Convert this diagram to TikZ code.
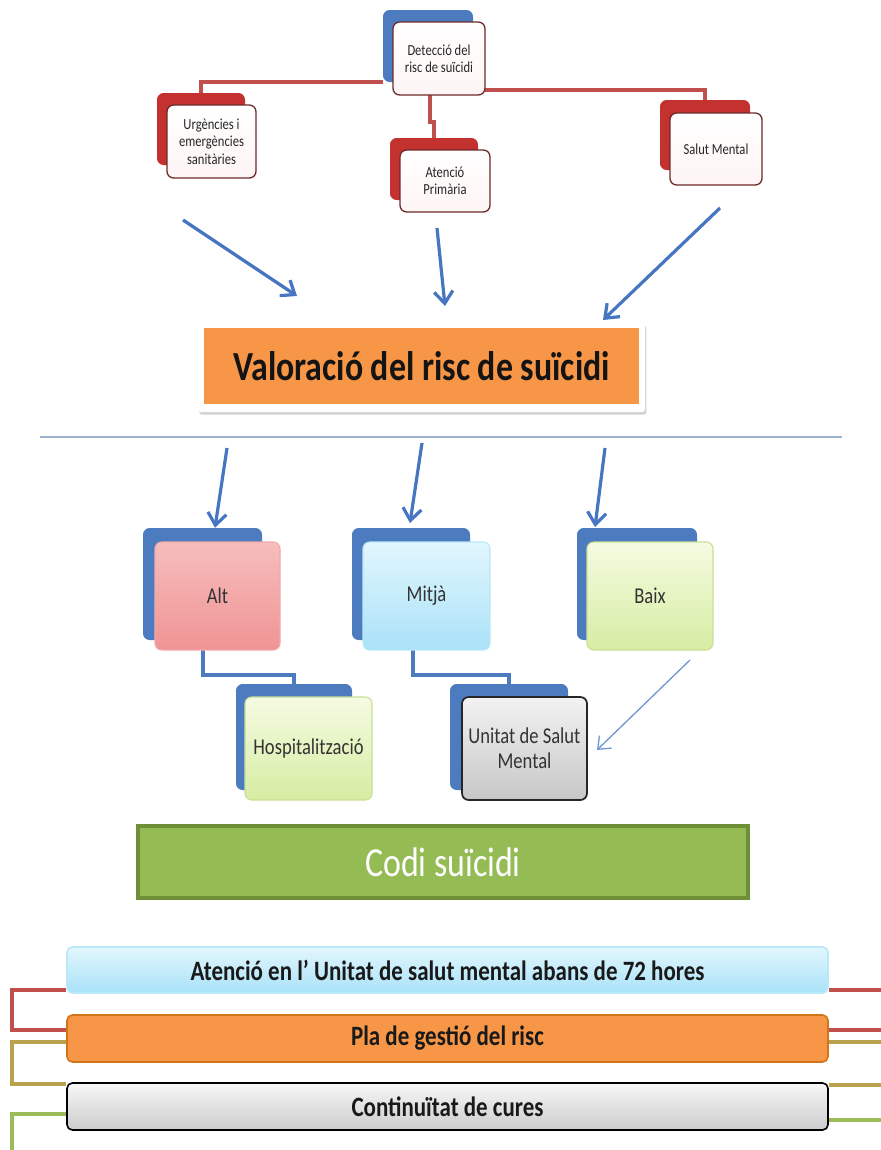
\documentclass[tikz,border=0pt]{standalone}
\usepackage{fontspec}
\usepackage{graphicx}
\setmainfont{Carlito}[FakeStretch=0.82]
\usetikzlibrary{arrows.meta,shadows}
\definecolor{arrowblue}{HTML}{4676C2}
\definecolor{backblue}{HTML}{4C7CBF}
\definecolor{backred}{HTML}{C3322E}
\definecolor{redline}{HTML}{C0504D}
\definecolor{oliveline}{HTML}{B8A24E}
\definecolor{greenline}{HTML}{9BBB59}
\definecolor{topborder}{HTML}{6E2A2A}
\definecolor{valorange}{HTML}{F79646}
\definecolor{codigreen}{HTML}{95BB55}
\definecolor{codiborder}{HTML}{6E8F35}
\definecolor{sepline}{HTML}{9DB3CC}
\definecolor{ygtop}{HTML}{F5FBE2}
\definecolor{ygbot}{HTML}{D6EDA2}
\definecolor{ygborder}{HTML}{C9DF98}
\definecolor{pinktop}{HTML}{F7BDBD}
\definecolor{pinkbot}{HTML}{F09494}
\definecolor{cyantop}{HTML}{E2F6FD}
\definecolor{cyanbot}{HTML}{A9E2F8}
\newcommand\bx[7]{\node[#6,minimum width={(#4-#2)*0.75pt},minimum height={(#5-#3)*0.75pt}] (#1) at ({(#2+#4)/2},{(#3+#5)/2}) {#7};}
\begin{document}
\begin{tikzpicture}[x=0.75pt,y=-0.75pt,
  box/.style={rounded corners=5pt,inner sep=0pt,align=center},
  backb/.style={box,fill=backblue},
  backr/.style={box,fill=backred},
  topfront/.style={box,draw=topborder,line width=1pt,top color=white,bottom color=black!8!red!4,
    font=\fontsize{11.5}{13}\selectfont,text=black!85},
  lowfront/.style={box,line width=0.8pt,font=\fontsize{17}{19}\selectfont,text=black!80},
  redl/.style={draw=redline,line width=3pt},
  bluel/.style={draw=backblue,line width=3pt},
  barrow/.style={draw=arrowblue,line width=2.4pt,-{Straight Barb[length=9pt,width=14pt]}},
  bar/.style={box,rounded corners=4pt,line width=1.2pt,font=\bfseries\fontsize{21}{24}\selectfont,text=black!90},
  barline/.style={line width=3pt}]
\useasboundingbox (0,0) rectangle (881,1150);
\fill[white] (0,0) rectangle (881,1150);

% ---- top group ----
\bx{detb}{383}{10}{473}{82}{backb}{}
\bx{urgb}{157}{93}{245}{165}{backr}{}
\bx{atb}{390}{138}{478}{200}{backr}{}
\bx{smb}{660}{100}{750}{170}{backr}{}
\coordinate (j1) at (430,122);
\draw[redl] (detb.west |- 0,82) -| (urgb.north);
\draw[redl] (detb.east |- 0,90) -| (smb.north);
\draw[redl] (430,85) -- (j1) -| (atb.north);
\bx{det}{393}{22}{485}{95}{topfront}{Detecció del\\risc de suïcidi}
\bx{urg}{167}{105}{256}{178}{topfront}{Urgències i\\emergències\\sanitàries}
\bx{at}{400}{150}{490}{212}{topfront}{Atenció\\Primària}
\bx{sm}{670}{113}{762}{185}{topfront}{Salut Mental}

% ---- valoració ----
\node[box,rounded corners=2pt,fill=white,drop shadow={opacity=0.35,shadow xshift=1pt,shadow yshift=-2pt},
  minimum width={447*0.75pt},minimum height={89*0.75pt}] (valf) at (421.5,367.5) {};
\node[inner sep=0pt,fill=valorange,minimum width={435*0.75pt},minimum height={76*0.75pt},
  font=\bfseries\fontsize{31}{34}\selectfont,text=black!92] (val) at (421.5,366) {Valoració del risc de suïcidi};

\coordinate (a1) at (183,220);
\coordinate (a2) at (437,228);
\coordinate (a3) at (720,208);
\coordinate (t1) at (297,296);
\coordinate (t2) at (445,306);
\coordinate (t3) at (603,320);
\draw[barrow] (a1) -- (t1);
\draw[barrow] (a2) -- (t2);
\draw[barrow] (a3) -- (t3);

% separator
\coordinate (s1) at (40,437);
\coordinate (s2) at (842,437);
\draw[sepline,line width=1.6pt] (s1) -- (s2);

% ---- risk level boxes ----
\bx{altb}{143}{528}{262}{640}{backb}{}
\bx{mitb}{352}{528}{470}{640}{backb}{}
\bx{baib}{577}{528}{697}{640}{backb}{}
\bx{hosb}{236}{684}{352}{790}{backb}{}
\bx{unib}{450}{684}{568}{790}{backb}{}
\coordinate (c1) at (203,675);
\coordinate (c2) at (413,675);
\draw[bluel] (203,645) -- (c1) -| (hosb.north);
\draw[bluel] (413,645) -- (c2) -| (unib.north);
\bx{alt}{155}{542}{280}{650}{lowfront,draw=pinkbot!80!white,top color=pinktop,bottom color=pinkbot}{Alt}
\bx{mit}{363}{542}{490}{650}{lowfront,draw=cyanbot!80!white,top color=cyantop,bottom color=cyanbot}{Mitjà}
\bx{bai}{587}{542}{713}{650}{lowfront,draw=ygborder,top color=ygtop,bottom color=ygbot}{Baix}
\bx{hos}{245}{697}{372}{800}{lowfront,draw=ygborder,top color=ygtop,bottom color=ygbot}{Hospitalització}
\bx{uni}{462}{697}{587}{800}{lowfront,draw=black!85,line width=1.3pt,top color=black!5,bottom color=black!22}{Unitat de Salut\\Mental}

\coordinate (d1) at (227,448);
\coordinate (d2) at (422,443);
\coordinate (d3) at (605,448);
\draw[barrow] (d1) -- (altb.north -| 215,0);
\draw[barrow] (d2) -- (410,523);
\draw[barrow] (d3) -- (595,527);
\coordinate (e1) at (690,660);
\coordinate (e2) at (597,750);
\draw[draw=arrowblue!75!white,line width=1pt,-{Straight Barb[length=8pt,width=13pt]}] (e1) -- (e2);

% ---- codi ----
\node[inner sep=0pt,fill=codigreen,draw=codiborder,line width=2.5pt,minimum width={610*0.75pt},minimum height={72*0.75pt},
  font=\fontsize{31}{34}\selectfont,text=white] (codi) at (443,862) {Codi suïcidi};

% ---- bars ----
\coordinate (lx) at (12,0);
\coordinate (rx) at (881,0);
\bx{b1}{67}{947}{828}{993}{bar,draw=cyanbot!80!white,top color=cyantop,bottom color=cyanbot}{Atenció en l' Unitat de salut mental abans de 72 hores}
\bx{b2}{67}{1015}{828}{1062}{bar,draw=orange!80!black!90,fill=valorange}{Pla de gestió del risc}
\bx{b3}{67}{1083}{828}{1130}{bar,draw=black,top color=black!3,bottom color=black!20}{Continuïtat de cures}
\draw[barline,redline] (b1.west |- 0,990) -| (lx |- 0,1010) |- (b2.west |- 0,1030);
\draw[barline,redline] (b1.east |- 0,990) -- (rx |- 0,990);
\draw[barline,redline] (b2.east |- 0,1030) -- (rx |- 0,1030);
\draw[barline,oliveline] (b2.west |- 0,1042) -| (lx |- 0,1060) |- (b3.west |- 0,1084);
\draw[barline,oliveline] (b2.east |- 0,1042) -- (rx |- 0,1042);
\draw[barline,oliveline] (b3.east |- 0,1085) -- (rx |- 0,1085);
\draw[barline,greenline] (b3.west |- 0,1114) -| (lx |- 0,1150);
\draw[barline,greenline] (b3.east |- 0,1120) -- (rx |- 0,1120);
\end{tikzpicture}
\end{document}
